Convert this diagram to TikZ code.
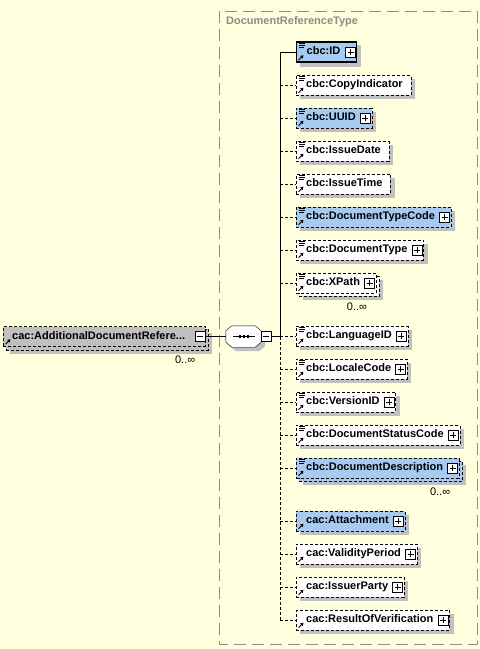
\documentclass[tikz,border=0pt]{standalone}
\usepackage{fontspec}
\setmainfont{Liberation Sans}
\usetikzlibrary{positioning,arrows.meta}
\definecolor{paper}{RGB}{255,255,221}
\definecolor{elemblue}{RGB}{166,202,240}
\definecolor{shadowgrey}{RGB}{192,192,192}
\definecolor{framegrey}{RGB}{140,140,140}
\pgfdeclarelayer{paperlayer}
\pgfdeclarelayer{shadelayer}
\pgfdeclarelayer{backlayer}
\pgfsetlayers{paperlayer,shadelayer,backlayer,main}
\tikzset{
    elem/.style={draw, inner sep=0pt, minimum height=20pt, anchor=west,
        text height=8pt, text depth=2.5pt, font=\fontsize{11}{13}\selectfont\bfseries},
    optbox/.style={dash pattern=on 3pt off 2pt},
    reqbox/.style={solid, line width=1.4pt},
    optline/.style={dash pattern=on 3pt off 2pt},
    mult/.style={inner sep=0pt, font=\fontsize{11}{13}\selectfont},
    iconbox/.style={draw, fill=white, line width=0.9pt, solid},
}
\newcommand{\toggleicon}[2]{%
    \begin{scope}[shift={(#1)}, line width=0.9pt]
        \draw[iconbox] (-5,-5) rectangle (5,5);
        \draw (-3,0) -- (3,0);
        \ifnum#2=1 \draw (0,-3) -- (0,3); \fi
    \end{scope}}
\newcommand{\refarrow}[1]{%
    \draw[-{Triangle[length=3pt,width=3.5pt]}, line width=0.9pt, solid]
        ([shift={(2.5,-2.5)}]#1) -- ++(5,-5);}
\newcommand{\simplemark}[1]{%
    \draw[line width=0.8pt, solid] ([shift={(3,2)}]#1) -- ++(6,0)
        ([shift={(3,4)}]#1) -- ++(6,0) ([shift={(3,6)}]#1) -- ++(5,0);}
\newcommand{\octagon}[3]{%
    \path[#3] ([shift={(#2+6,#2)}]#1.north west) -- ([shift={(#2-6,#2)}]#1.north east)
        -- ([shift={(#2,#2+5)}]#1.north east) -- ([shift={(#2,#2-5)}]#1.south east)
        -- ([shift={(#2-6,#2)}]#1.south east) -- ([shift={(#2+6,#2)}]#1.south west)
        -- ([shift={(#2,#2-5)}]#1.south west) -- ([shift={(#2,#2+5)}]#1.north west) -- cycle;}
\begin{document}
\begin{tikzpicture}[x=1pt, y=-1pt, line width=1pt]
    \useasboundingbox (0,0) rectangle (480,649);
    \begin{pgfonlayer}{paperlayer}
        \fill[paper] (0,0) rectangle (480,649);
        \draw[framegrey, dash pattern=on 12pt off 6pt] (219,11) rectangle (477,644);
    \end{pgfonlayer}
    \node[anchor=west, inner sep=0pt, text=framegrey, font=\fontsize{11}{13}\selectfont\bfseries] (title) at (226,22) {DocumentReferenceType};

    \node[elem, optbox, fill=shadowgrey] (adr) at (3,336.5) {\hspace*{9pt}cac:AdditionalDocumentRefere...\hspace*{20pt}};
    \begin{pgfonlayer}{backlayer}
        \draw[optbox, fill=shadowgrey] ([shift={(3,3)}]adr.north west) rectangle ([shift={(3,3)}]adr.south east);
    \end{pgfonlayer}
    \begin{pgfonlayer}{shadelayer}
        \fill[shadowgrey] ([shift={(7,7)}]adr.north west) rectangle ([shift={(7,7)}]adr.south east);
    \end{pgfonlayer}
    \refarrow{adr.south west}
    \node[mult, anchor=north east] (adrmult) at ([shift={(-10,9)}]adr.south east) {0..∞};

    \node[minimum width=35pt, minimum height=21pt, inner sep=0pt] (seq) at (243.5,336.5) {};
    \begin{pgfonlayer}{shadelayer}
        \octagon{seq}{4}{fill=shadowgrey}
    \end{pgfonlayer}
    \octagon{seq}{0}{draw, fill=white}
    \draw ([xshift=-10.5pt]seq.center) -- ([xshift=11.5pt]seq.center);
    \foreach \d in {-5,-1,3}
        \fill ([shift={(\d,-1.5)}]seq.center) rectangle ++(2.5,3);
    \coordinate (trunk) at (280,336.5);
    \draw (adr.east) -- (seq.west);
    \draw (seq.east) -- (trunk);
    \toggleicon{[xshift=-5pt]adr.east}{0}
    \toggleicon{[xshift=5pt]seq.east}{0}

    \foreach \y/\txt/\bl/\req/\pl/\ic/\mt [count=\i] in {
            52/cbc:ID/1/1/1/1/0,
            85/cbc:CopyIndicator/0/0/0/1/0,
            118/cbc:UUID/1/0/1/1/0,
            151/cbc:IssueDate/0/0/0/1/0,
            184/cbc:IssueTime/0/0/0/1/0,
            217/cbc:DocumentTypeCode/1/0/1/1/0,
            250/cbc:DocumentType/0/0/1/1/0,
            283/cbc:XPath/0/0/1/1/1,
            336/cbc:LanguageID/0/0/1/1/0,
            369/cbc:LocaleCode/0/0/1/1/0,
            402/cbc:VersionID/0/0/1/1/0,
            435/cbc:DocumentStatusCode/0/0/1/1/0,
            468/cbc:DocumentDescription/1/0/1/1/1,
            521/cac:Attachment/1/0/1/0/0,
            554/cac:ValidityPeriod/0/0/1/0/0,
            587/cac:IssuerParty/0/0/1/0/0,
            620/cac:ResultOfVerification/0/0/1/0/0}
        {
            \pgfmathparse{\bl ? "elemblue" : "white"}
            \edef\colour{\pgfmathresult}
            \pgfmathparse{\req ? "reqbox" : "optbox"}
            \edef\border{\pgfmathresult}
            \pgfmathparse{\req ? "solid" : "optline"}
            \edef\link{\pgfmathresult}
            \pgfmathparse{\pl ? 16 : 8}
            \edef\pad{\pgfmathresult}
            \pgfmathsetmacro\off{4+3*\mt}
            \node[elem, \border, fill=\colour] (e\i) at (296,\y) {\hspace*{10pt}\txt\hspace*{\pad pt}};
            \coordinate (t\i) at (280,\y);
            \draw[\link] (t\i) -- (e\i.west);
            \begin{pgfonlayer}{shadelayer}
                \fill[shadowgrey] ([shift={(\off,\off)}]e\i.north west) rectangle ([shift={(\off,\off)}]e\i.south east);
            \end{pgfonlayer}
            \ifnum\mt=1
                \begin{pgfonlayer}{backlayer}
                    \draw[optbox, fill=\colour] ([shift={(3,3)}]e\i.north west) rectangle ([shift={(3,3)}]e\i.south east);
                \end{pgfonlayer}
                \node[mult, anchor=north east] (m\i) at ([shift={(-9,9)}]e\i.south east) {0..∞};
            \fi
            \ifnum\ic=1 \simplemark{e\i.north west} \fi
            \refarrow{e\i.south west}
            \ifnum\pl=1 \toggleicon{[xshift=-6.5pt]e\i.east}{1} \fi
        }
    \draw (trunk) -- (t1);
    \draw[optline] (trunk) -- (t17);
\end{tikzpicture}
\end{document}
